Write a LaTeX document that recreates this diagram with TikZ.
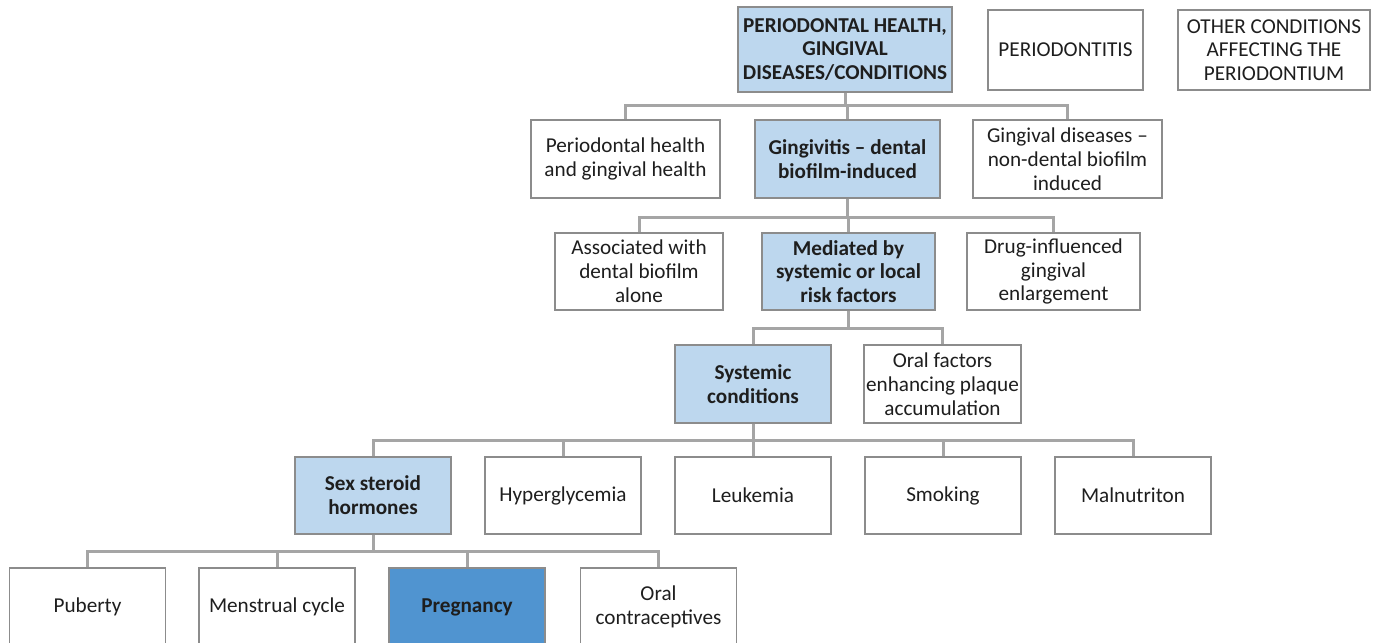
\documentclass[tikz,border=0pt]{standalone}
\usepackage{fontspec}
\setmainfont{Carlito}
\definecolor{lightblue}{HTML}{BDD7EE}
\definecolor{darkblue}{HTML}{5094D0}
\definecolor{linkgray}{HTML}{A5A5A5}
\definecolor{boxgray}{HTML}{8C8C8C}
\definecolor{txt}{HTML}{1E1E1E}

\begin{document}
\begin{tikzpicture}[x=0.5pt, y=-0.5pt,
  box/.style = {draw=boxgray, line width=0.6pt, fill=white, align=center, text=txt,
                font=\fontsize{10.6pt}{11.9pt}\selectfont, inner sep=1pt,
                minimum width=78pt, minimum height=39pt},
  hibox/.style = {box, fill=lightblue, font=\fontsize{10.6pt}{11.9pt}\selectfont\bfseries},
  selbox/.style = {box, fill=darkblue, font=\fontsize{10.6pt}{11.9pt}\selectfont\bfseries},
  link/.style = {draw=linkgray, line width=1.5pt}]

\useasboundingbox (0,0) rectangle (1378,643);

% top row
\node[hibox, minimum width=107pt, minimum height=42.5pt] (root) at (845, 49.5)
  {PERIODONTAL HEALTH,\\GINGIVAL\\DISEASES/CONDITIONS};
\node[box, minimum width=77.5pt, minimum height=40pt] (perio) at (1065.5, 50) {PERIODONTITIS};
\node[box, minimum width=96pt, minimum height=40pt] (other) at (1274, 50)
  {OTHER CONDITIONS\\AFFECTING THE\\PERIODONTIUM};

% gingival level
\node[box, minimum width=94.5pt] (health) at (625.5, 159) {Periodontal health\\and gingival health};
\node[hibox, minimum width=92.5pt] (gingivitis) at (847.5, 159) {Gingivitis -- dental\\biofilm-induced};
\node[box, minimum width=94.5pt] (nondental) at (1067.5, 159) {Gingival diseases --\\non-dental biofilm\\induced};

% biofilm level
\node[box, minimum width=84pt, minimum height=38.5pt] (alone) at (639, 271.5)
  {Associated with\\dental biofilm\\alone};
\node[hibox, minimum width=86.5pt, minimum height=38.5pt] (mediated) at (848.5, 271.5)
  {Mediated by\\systemic or local\\risk factors};
\node[box, minimum width=86.5pt, minimum height=38.5pt] (drug) at (1053.5, 271.5)
  {Drug-influenced\\gingival\\enlargement};

% risk factors
\node[hibox] (systemic) at (753, 384) {Systemic\\conditions};
\node[box, minimum width=78.5pt] (oral) at (942.5, 384) {Oral factors\\enhancing plaque\\accumulation};

% systemic conditions
\node[hibox, minimum height=38.5pt] (steroid) at (373, 495.5) {Sex steroid\\hormones};
\node[box, minimum height=38.5pt] (hyper) at (563, 495.5) {Hyperglycemia};
\node[box, minimum height=38.5pt] (leuk) at (753, 495.5) {Leukemia};
\node[box, minimum height=38.5pt] (smoke) at (943, 495.5) {Smoking};
\node[box, minimum height=38.5pt] (malnu) at (1133, 495.5) {Malnutriton};

% hormones
\node[box] (puberty) at (87.5, 607) {Puberty};
\node[box] (menses) at (277, 607) {Menstrual cycle};
\node[selbox] (pregnancy) at (467, 607) {Pregnancy};
\node[box] (pill) at (658.5, 607) {Oral\\contraceptives};

% connectors
\foreach \child in {health, gingivitis, nondental}
  \draw[link] (root.south) -- ++(0,13) -| (\child.north);
\foreach \child in {alone, mediated, drug}
  \draw[link] (gingivitis.south) -- ++(0,19) -| (\child.north);
\foreach \child in {systemic, oral}
  \draw[link] (mediated.south) -- ++(0,18) -| (\child.north);
\foreach \child in {steroid, hyper, leuk, smoke, malnu}
  \draw[link] (systemic.south) -- ++(0,17) -| (\child.north);
\foreach \child in {puberty, menses, pregnancy, pill}
  \draw[link] (steroid.south) -- ++(0,17) -| (\child.north);

\end{tikzpicture}
\end{document}
